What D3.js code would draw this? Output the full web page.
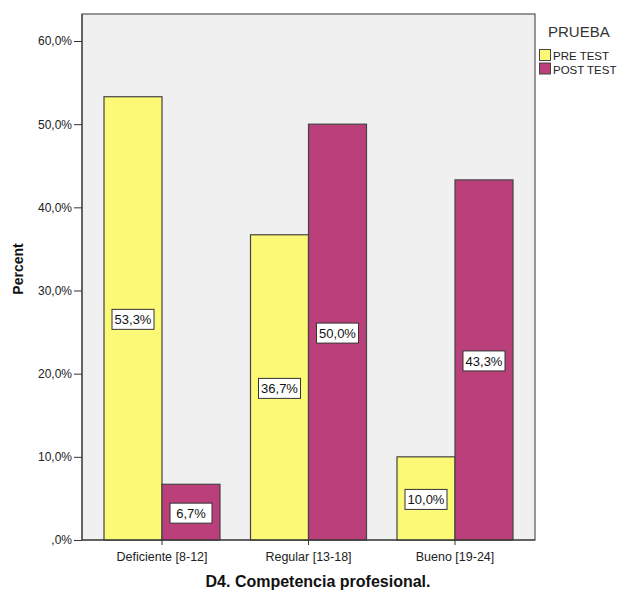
<!DOCTYPE html>
<html>
<head>
<meta charset="utf-8">
<script src="https://cdn.jsdelivr.net/npm/d3@7"></script>
<style>
  html, body { margin: 0; padding: 0; background: #ffffff; }
  svg { display: block; font-family: Arial, "Liberation Sans", sans-serif; }
</style>
</head>
<body>
<svg id="chart" width="617" height="594"></svg>
<script>
// Competencia profesional: percentage per level, pre vs post test
const categories = ["Deficiente [8-12]", "Regular [13-18]", "Bueno [19-24]"];
const seriesNames = ["PRE TEST", "POST TEST"];
const preTest = [53.3, 36.7, 10.0];
const postTest = [6.7, 50.0, 43.3];
const yTicks = [0, 10, 20, 30, 40, 50, 60];
const colors = ["#fbf976", "#bb3f7b"];

const svg = d3.select("#chart");
const plot = { left: 82, right: 535, top: 14, bottom: 540 };
const FONT = "Arial, 'Liberation Sans', sans-serif";

const y = d3.scaleLinear().domain([0, 60]).range([plot.bottom, 41]);
const x0 = d3.scaleBand().domain(categories).range([88.75, 528.25]).padding(0);
const groupW = 116;
const x1 = d3.scaleBand().domain(seriesNames).range([0, groupW]).padding(0);

const fmt = v => (v === 0 ? ",0%" : d3.format(".1f")(v).replace(".", ",") + "%");

// plot background
svg.append("rect")
  .attr("x", plot.left).attr("y", plot.top)
  .attr("width", plot.right - plot.left).attr("height", plot.bottom - plot.top)
  .attr("fill", "#f0f0f0").attr("stroke", "#555").attr("stroke-width", 1.2);

// bars
const rows = categories.map((c, i) => ({ cat: c, vals: [preTest[i], postTest[i]] }));
const groups = svg.selectAll("g.grp").data(rows).join("g")
  .attr("class", "grp")
  .attr("transform", d => `translate(${x0(d.cat) + (x0.bandwidth() - groupW) / 2},0)`);

groups.selectAll("rect").data(d => d.vals.map((v, k) => ({ name: seriesNames[k], v, k })))
  .join("rect")
  .attr("x", d => x1(d.name))
  .attr("y", d => y(d.v))
  .attr("width", x1.bandwidth())
  .attr("height", d => y(0) - y(d.v))
  .attr("fill", d => colors[d.k])
  .attr("stroke", "#444").attr("stroke-width", 1.2);

// value labels
const labels = groups.selectAll("g.lab").data(d => d.vals.map((v, k) => ({ name: seriesNames[k], v, k })))
  .join("g").attr("class", "lab")
  .attr("transform", d => `translate(${x1(d.name) + x1.bandwidth() / 2},${(y(d.v) + y(0)) / 2 + 1})`);
labels.append("rect")
  .attr("x", -21).attr("y", -10).attr("width", 42).attr("height", 20)
  .attr("fill", "#fff").attr("stroke", "#333").attr("stroke-width", 1);
labels.append("text")
  .attr("text-anchor", "middle").attr("dy", "0.36em")
  .attr("font-size", 13).attr("fill", "#111")
  .text(d => fmt(d.v));

// y axis
const yAxis = d3.axisLeft(y).tickValues(yTicks).tickSize(8).tickPadding(2).tickFormat(fmt);
const gy = svg.append("g").attr("transform", `translate(${plot.left},0)`).call(yAxis);
gy.select(".domain").attr("stroke", "#333").attr("d", `M0,${plot.top}V${plot.bottom}`);
gy.selectAll(".tick line").attr("stroke", "#333");
gy.selectAll(".tick text").attr("font-size", 12).attr("fill", "#222").attr("font-family", FONT);

// x axis
const xAxis = d3.axisBottom(x0).tickSize(5).tickSizeOuter(0);
const gx = svg.append("g").attr("transform", `translate(0,${plot.bottom})`).call(xAxis);
gx.select(".domain").attr("stroke", "#333").attr("d", `M${plot.left},0H${plot.right}`);
gx.selectAll(".tick line").attr("stroke", "#333");
gx.selectAll(".tick text").attr("font-size", 12.5).attr("fill", "#222")
  .attr("y", 0).attr("dy", 0).attr("transform", "translate(0,21)")
  .attr("font-family", FONT);

// axis titles
svg.append("text")
  .attr("transform", "translate(23,269) rotate(-90)")
  .attr("text-anchor", "middle").attr("font-size", 14).attr("font-weight", "bold")
  .attr("fill", "#111").text("Percent");
svg.append("text")
  .attr("x", 318).attr("y", 587)
  .attr("text-anchor", "middle").attr("font-size", 16).attr("font-weight", "bold")
  .attr("fill", "#111").text("D4. Competencia profesional.");

// legend
const lg = svg.append("g").attr("transform", "translate(539,0)");
lg.append("text").attr("x", 9).attr("y", 37).attr("font-size", 15).attr("fill", "#333").text("PRUEBA");
seriesNames.forEach((s, k) => {
  lg.append("rect").attr("x", 0.5).attr("y", 49.5 + k * 13.5).attr("width", 11).attr("height", 11)
    .attr("fill", colors[k]).attr("stroke", "#444").attr("stroke-width", 1);
  lg.append("text").attr("x", 14).attr("y", 59.5 + k * 14.5).attr("font-size", 11.5).attr("fill", "#222").text(s);
});
</script>
</body>
</html>
